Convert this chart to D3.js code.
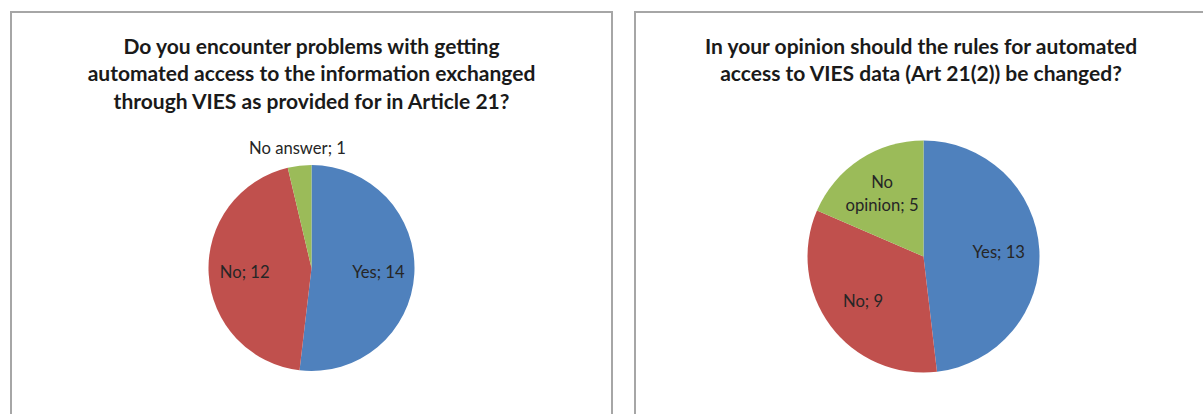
<html>
<head>
<script src="https://d3js.org/d3.v7.min.js"></script>
<style>
  body { margin: 0; background: #fff; }
  .frame { fill: none; stroke: #a6a6a6; stroke-width: 2px; }
  .title { font-family: Lato, "Open Sans", sans-serif; font-weight: bold; fill: #1a1a1a; }
  .lbl { font-family: Lato, "Open Sans", sans-serif; fill: #262626; }
</style>
</head>
<body>
<script>
// left chart
var titleA = ["Do you encounter problems with getting",
              "automated access to the information exchanged",
              "through VIES as provided for in Article 21?"];
var catsA = ["Yes", "No", "No answer"];
var valsA = [14, 12, 1];

// right chart
var titleB = ["In your opinion should the rules for automated",
              "access to VIES data (Art 21(2)) be changed?"];
var catsB = ["Yes", "No", "No opinion"];
var valsB = [13, 9, 5];

var colors = ["#4f81bd", "#c0504d", "#9bbb59"];

var W = 1203, H = 414;

var svg = d3.select("body").append("svg")
    .attr("width", W)
    .attr("height", H);

// panel frames (bottom edge falls outside the picture)
svg.append("rect").attr("class", "frame")
    .attr("x", 11).attr("y", 12).attr("width", 601).attr("height", H + 20);
svg.append("rect").attr("class", "frame")
    .attr("x", 635).attr("y", 12).attr("width", 700).attr("height", H + 20);

// measure text and return a font size that makes the widest line "target" px
function fitSize(lines, cls, base, target) {
    var t = svg.append("g");
    var maxW = 0;
    lines.forEach(function(s) {
        var n = t.append("text").attr("class", cls).style("font-size", base + "px").text(s);
        maxW = Math.max(maxW, n.node().getComputedTextLength());
    });
    t.remove();
    return base * target / maxW;
}

var titleSize = fitSize(titleA, "title", 18, 448);
var labelSize = fitSize(["No answer; 1"], "lbl", 15, 97);

function drawPie(cfg) {
    var g = svg.append("g");

    g.selectAll("text.title")
        .data(cfg.title)
        .enter().append("text")
        .attr("class", "title")
        .attr("x", cfg.tx)
        .attr("y", function(d, i) { return cfg.ty + i * 27.3; })
        .attr("text-anchor", "middle")
        .style("font-size", titleSize + "px")
        .text(function(d) { return d; });

    var data = cfg.cats.map(function(c, i) { return {cat: c, value: cfg.vals[i]}; });
    var total = d3.sum(cfg.vals);

    var pie = d3.pie().sort(null).value(function(d) { return d.value; });
    var arcs = pie(data);

    var arc = d3.arc().innerRadius(0).outerRadius(cfg.r);
    var labelArc = d3.arc().innerRadius(cfg.r * 1.3).outerRadius(cfg.r * 0);
    var outArc = d3.arc().innerRadius(cfg.r + 18).outerRadius(cfg.r + 18);

    var pg = g.append("g").attr("transform", "translate(" + cfg.cx + "," + cfg.cy + ")");

    pg.selectAll("path")
        .data(arcs)
        .enter().append("path")
        .attr("d", arc)
        .attr("fill", function(d, i) { return colors[i]; });

    pg.selectAll("text.lbl")
        .data(arcs)
        .enter().append("text")
        .attr("class", "lbl")
        .style("font-size", labelSize + "px")
        .attr("text-anchor", "middle")
        .each(function(d) {
            var txt = d.data.cat + "; " + d.data.value;
            var outside = d.data.value / total < 0.06;
            var p = outside ? outArc.centroid(d) : labelArc.centroid(d);
            var el = d3.select(this).attr("transform", "translate(" + p[0] + "," + p[1] + ")");
            var sp = d.data.cat.indexOf(" ");
            if (!outside && sp > 0) {
                // long inside labels wrap after the first word
                el.append("tspan").attr("x", 0).attr("y", -6).text(d.data.cat.slice(0, sp));
                el.append("tspan").attr("x", 0).attr("y", 17).text(d.data.cat.slice(sp + 1) + "; " + d.data.value);
            } else {
                el.attr("dy", "0.35em").text(txt);
            }
        });
}

drawPie({title: titleA, cats: catsA, vals: valsA, tx: 311.5, ty: 54, cx: 311.5, cy: 268, r: 103});
drawPie({title: titleB, cats: catsB, vals: valsB, tx: 921, ty: 54, cx: 923.5, cy: 256.5, r: 116});
</script>
</body>
</html>
